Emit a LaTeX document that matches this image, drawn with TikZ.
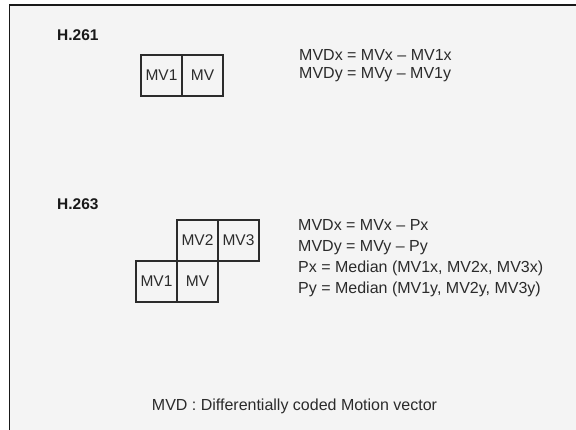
\documentclass[tikz,border=0pt]{standalone}
\usepackage{fontspec}
\setmainfont{Liberation Sans}
\usetikzlibrary{positioning}
\definecolor{panelgray}{HTML}{F4F4F4}
\definecolor{inkgray}{HTML}{2B2B2B}
\tikzset{
  frame line/.style = {line width=1.7pt, black!90},
  cell/.style       = {draw=inkgray, line width=1.1pt, minimum size=41pt,
                       inner sep=0pt, outer sep=0pt,
                       font=\fontsize{15.5}{18}\selectfont, text=inkgray},
  eqline/.style     = {anchor=west, inner sep=0pt, text height=11pt, text depth=0pt,
                       font=\fontsize{16}{18}\selectfont, text=inkgray},
  stdlabel/.style   = {anchor=west, inner sep=0pt, text height=11pt, text depth=0pt,
                       font=\fontsize{15.5}{18}\selectfont\bfseries, text=black!90},
  footnote/.style   = {inner sep=0pt, text height=11pt, text depth=0pt,
                       font=\fontsize{16}{18}\selectfont, text=inkgray},
}

\begin{document}
\begin{tikzpicture}[x=1pt,y=-1pt]
  \useasboundingbox (0,0) rectangle (576,430);
  \fill[white] (0,0) rectangle (576,430);
  \fill[panelgray] (9.5,5) rectangle (576,430);
  \draw[frame line] (9.5,430) -- (9.5,5) -- (576,5);

  % H.261
  \node[stdlabel] (h261) at (57,35) {H.261};
  \node[cell] (a1) at (161.5,75.5) {MV1};
  \node[cell,right=0pt of a1] (a0) {MV};
  \node[eqline] (adx) at (299,55) {MVDx = MVx – MV1x};
  \node[eqline] (ady) at (299,73) {MVDy = MVy – MV1y};

  % H.263
  \node[stdlabel] (h263) at (57,204) {H.263};
  \node[cell] (b1) at (156.5,281.5) {MV1};
  \node[cell,right=0pt of b1] (b0) {MV};
  \node[cell,above=0pt of b0] (b2) {MV2};
  \node[cell,right=0pt of b2] (b3) {MV3};
  \node[eqline] (bdx) at (298,225) {MVDx = MVx – Px};
  \node[eqline] (bdy) at (298,246) {MVDy = MVy – Py};
  \node[eqline] (bpx) at (298,267) {Px = Median (MV1x, MV2x, MV3x)};
  \node[eqline] (bpy) at (298,288) {Py = Median (MV1y, MV2y, MV3y)};

  % legend
  \node[footnote] (mvd) at (294.5,405) {MVD : Differentially coded Motion vector};
\end{tikzpicture}
\end{document}
